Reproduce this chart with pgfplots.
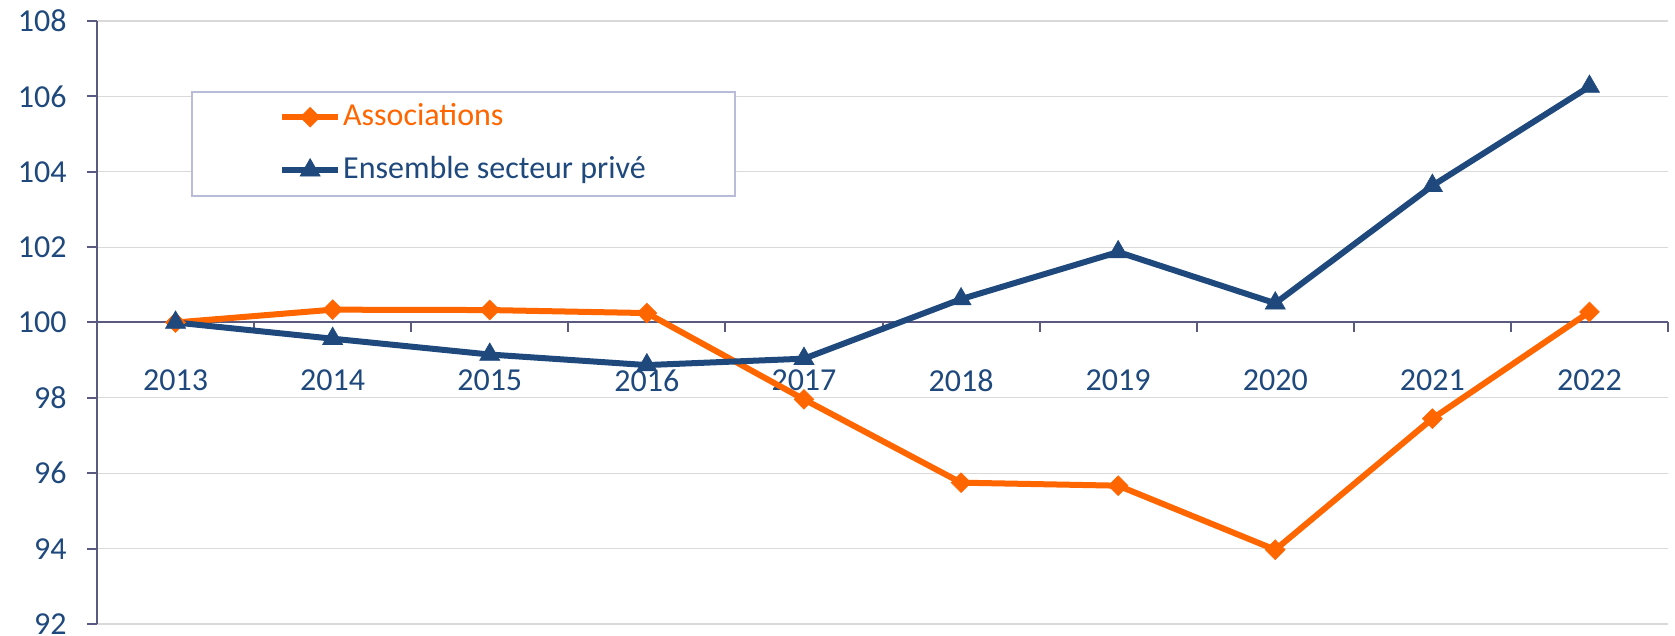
\documentclass[border=0pt]{standalone}
\usepackage{pgfplots}
\pgfplotsset{compat=1.18}
\usepackage{fontspec}
\setmainfont{Carlito}
\definecolor{orng}{HTML}{FF6600}
\definecolor{navy}{HTML}{1F497D}
\definecolor{axcol}{HTML}{5A5A80}
\definecolor{gridc}{HTML}{D9D9D9}
\definecolor{legc}{HTML}{B8BCD8}
\pgfplotsset{layers/mylayers/.define layer set={axis background,axis grid,axis ticks,axis lines,axis tick labels,pre main,main,axis descriptions,axis foreground}{/pgfplots/layers/standard}}
\begin{document}
\begin{tikzpicture}
\begin{axis}[
  set layers=mylayers,
  scale only axis,
  width=785.5pt, height=301.5pt,
  xmin=-0.5, xmax=9.5,
  ymin=92, ymax=108,
  ytick={92,94,...,108},
  xtick={-0.5,0.5,1.5,2.5,3.5,4.5,5.5,6.5,7.5,8.5,9.5},
  xticklabels={2013,2014,2015,2016,2017,2018,2019,2020,2021,2022,{}},
  xticklabel style={xshift=39.275pt, yshift=-15pt},
  yticklabel style={xshift=-6.7pt},
  /pgf/number format/assume math mode=true,
  tick label style={font=\fontsize{16}{19}\selectfont, text=navy},
  axis x line*=bottom, axis y line*=left,
  axis x line shift=-150.75pt,
  axis line style={draw=axcol, line width=1pt},
  tick style={draw=axcol, line width=1pt},
  tick align=outside,
  major tick length=5pt,
  ymajorgrids, grid style={draw=gridc, line width=0.6pt},
  clip=false,
  legend style={at={(0.0598,0.884)}, anchor=north west, draw=legc, line width=0.8pt,
    inner xsep=43.7pt, inner ysep=4.25pt, row sep=9.5pt,
    font=\fontsize{16}{19}\selectfont,
    nodes={inner xsep=1pt, inner ysep=1pt, text height=11.5pt, text depth=3.5pt}},
  legend cell align=left,
  legend image code/.code={\draw[mark repeat=2,mark phase=2,#1] plot coordinates {(0pt,0pt) (14pt,0pt) (28pt,0pt)};},
]
\addplot[orng, line width=3pt, mark=square*, mark size=3.5pt, mark options={solid, rotate=45, line width=0.3pt, fill=orng}] coordinates {
(0,100) (1,100.34) (2,100.33) (3,100.25) (4,97.96) (5,95.75) (6,95.67) (7,93.97) (8,97.45) (9,100.28)};
\addlegendentry{\textcolor{orng}{Associations}}
\addplot[navy, line width=3pt, mark=triangle*, mark size=5.8pt, mark options={solid, line width=0.3pt, fill=navy}] coordinates {
(0,100) (1,99.57) (2,99.15) (3,98.87) (4,99.04) (5,100.62) (6,101.87) (7,100.51) (8,103.63) (9,106.26)};
\addlegendentry{\textcolor{navy}{Ensemble secteur privé}}
\end{axis}
\pgfresetboundingbox
\path[use as bounding box] (-48.5pt,-6pt) rectangle (789pt,312pt);
\end{tikzpicture}
\end{document}
